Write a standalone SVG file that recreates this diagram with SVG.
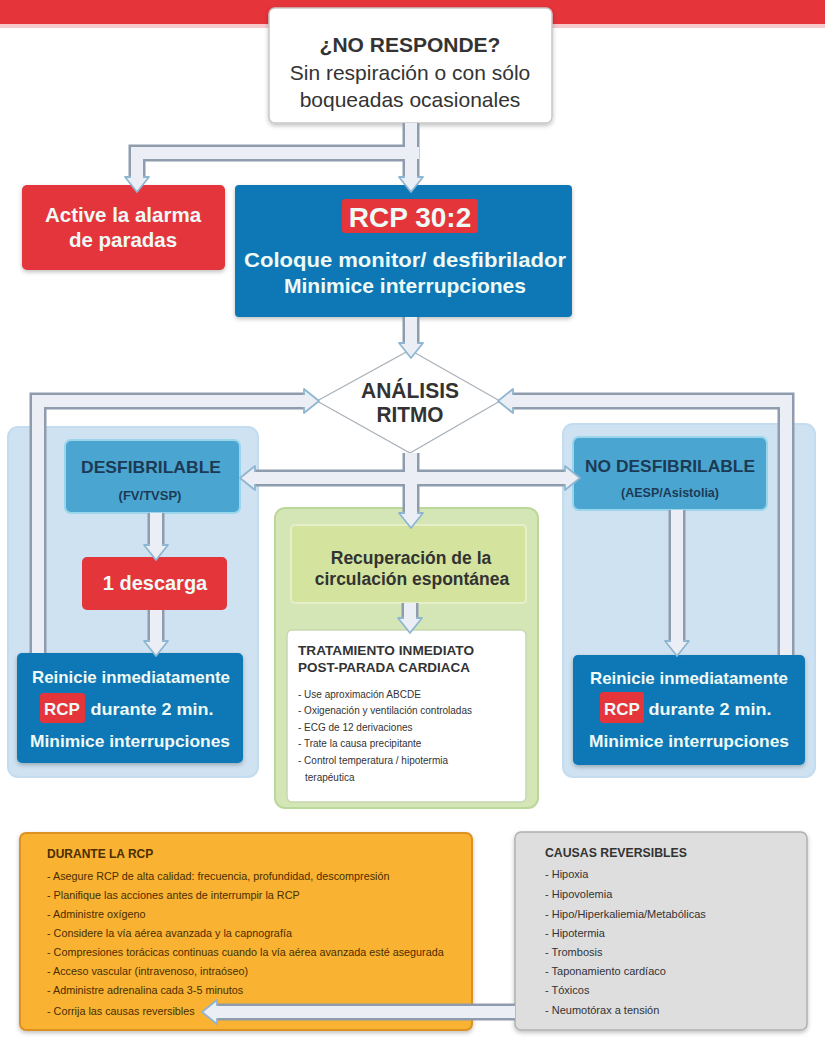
<svg xmlns="http://www.w3.org/2000/svg" width="825" height="1040" viewBox="0 0 825 1040">
<defs>
<style>
text{font-family:"Liberation Sans","Open Sans",Arial,sans-serif}
.po{fill:none;stroke:#8e9cae;stroke-width:17;stroke-linejoin:miter}
.pi{fill:none;stroke:#eceef5;stroke-width:12;stroke-linejoin:miter}
.ah{fill:#eceef5;stroke:#8fb6d0;stroke-width:1.8;stroke-linejoin:round}
.red{fill:#e3353a}
.blue{fill:#0f78b5}
.wt{fill:#effaf6;font-weight:bold;text-anchor:middle}
.dk{fill:#333;text-anchor:middle}
.panel{fill:#cfe2f1;stroke:#c3dcef;stroke-width:2}
.db{fill:#4aa6d1;stroke:#9ad5ec;stroke-width:2}
.dbt{fill:#1d3a55;font-weight:bold;text-anchor:middle}
.sm{font-size:10px;fill:#333}
.bl{font-size:10.8px;fill:#4a2e00}
.gl{font-size:11px;fill:#333}
</style>
<filter id="sh" x="-10%" y="-10%" width="120%" height="130%"><feDropShadow dx="0" dy="2" stdDeviation="2" flood-color="#000" flood-opacity="0.25"/></filter>
</defs>
<rect width="825" height="1040" fill="#fff"/>
<rect x="0" y="0" width="825" height="24" fill="#e5343a"/>
<rect x="0" y="24" width="825" height="4" fill="#f6c9cb"/>

<g id="panels">
<rect class="panel" x="8" y="427" width="250" height="350" rx="10"/>
<rect class="panel" x="563" y="424" width="252" height="353" rx="10"/>
<rect x="275" y="508" width="263" height="300" rx="10" fill="#d5e6b6" stroke="#bcd79a" stroke-width="2"/>
</g>

<g id="no-responde">
<rect x="269" y="8" width="283" height="115" rx="6" fill="#fff" stroke="#c8c8c8" stroke-width="1.5" filter="url(#sh)"/>
<text class="dk" x="410" y="52" font-size="21" font-weight="bold">¿NO RESPONDE?</text>
<text class="dk" x="410" y="80" font-size="21">Sin respiración o con sólo</text>
<text class="dk" x="410" y="107" font-size="21">boqueadas ocasionales</text>
</g>

<g id="alarma">
<rect class="red" x="22" y="185" width="203" height="85" rx="5" filter="url(#sh)"/>
<text class="wt" x="123" y="222" font-size="20.5">Active la alarma</text>
<text class="wt" x="123" y="247" font-size="20.5">de paradas</text>
</g>

<g id="rcp302">
<rect class="blue" x="235" y="185" width="337" height="132" rx="4" filter="url(#sh)"/>
<rect class="red" x="342" y="199" width="136" height="34" rx="3"/>
<text class="wt" x="410" y="227" font-size="28">RCP 30:2</text>
<text class="wt" x="405" y="267" font-size="21" textLength="322" lengthAdjust="spacingAndGlyphs">Coloque monitor/ desfibrilador</text>
<text class="wt" x="405" y="293" font-size="21" textLength="242" lengthAdjust="spacingAndGlyphs">Minimice interrupciones</text>
</g>

<g id="analisis">
<polygon points="410,350 500,401 410,453 317,401" fill="#fff" stroke="#a9b1ba" stroke-width="1.2"/>
<text class="dk" x="410" y="398" font-size="22" font-weight="bold" textLength="98" lengthAdjust="spacingAndGlyphs">ANÁLISIS</text>
<text class="dk" x="410" y="422" font-size="22" font-weight="bold" textLength="67" lengthAdjust="spacingAndGlyphs">RITMO</text>
</g>

<g id="desfibrilable">
<rect class="db" x="65" y="440" width="175" height="73" rx="6"/>
<text class="dbt" x="151" y="473" font-size="17" textLength="140" lengthAdjust="spacingAndGlyphs">DESFIBRILABLE</text>
<text class="dbt" x="150" y="500" font-size="13">(FV/TVSP)</text>
</g>

<g id="no-desfibrilable">
<rect class="db" x="573" y="437" width="194" height="73" rx="6"/>
<text class="dbt" x="670" y="472" font-size="17" textLength="170" lengthAdjust="spacingAndGlyphs">NO DESFIBRILABLE</text>
<text class="dbt" x="670" y="497" font-size="12.5">(AESP/Asistolia)</text>
</g>

<g id="descarga">
<rect class="red" x="82" y="557" width="145" height="53" rx="5"/>
<text class="wt" x="155" y="590" font-size="20">1 descarga</text>
</g>

<g id="reinicie-izq">
<rect class="blue" x="17" y="653" width="226" height="110" rx="5" filter="url(#sh)"/>
<text class="wt" x="131" y="683" font-size="17" textLength="198" lengthAdjust="spacingAndGlyphs">Reinicie inmediatamente</text>
<rect class="red" x="40" y="693" width="45" height="30" rx="3"/>
<text class="wt" x="62" y="715" font-size="17">RCP</text>
<text class="wt" x="152" y="715" font-size="17" textLength="123" lengthAdjust="spacingAndGlyphs">durante 2 min.</text>
<text class="wt" x="130" y="747" font-size="17" textLength="200" lengthAdjust="spacingAndGlyphs">Minimice interrupciones</text>
</g>

<g id="reinicie-der">
<rect class="blue" x="573" y="655" width="232" height="110" rx="5" filter="url(#sh)"/>
<text class="wt" x="689" y="684" font-size="17" textLength="198" lengthAdjust="spacingAndGlyphs">Reinicie inmediatamente</text>
<rect class="red" x="600" y="692" width="44" height="31" rx="3"/>
<text class="wt" x="622" y="715" font-size="17">RCP</text>
<text class="wt" x="710" y="715" font-size="17" textLength="123" lengthAdjust="spacingAndGlyphs">durante 2 min.</text>
<text class="wt" x="689" y="747" font-size="17" textLength="200" lengthAdjust="spacingAndGlyphs">Minimice interrupciones</text>
</g>

<g id="recuperacion">
<rect x="291" y="525" width="235" height="78" rx="4" fill="#d4e39d" stroke="#e6efc8" stroke-width="2"/>
<text class="dk" x="411" y="564" font-size="17.5" font-weight="bold" fill="#2a2a1a">Recuperación de la</text>
<text class="dk" x="412" y="585" font-size="17.5" font-weight="bold" fill="#2a2a1a">circulación espontánea</text>
</g>

<g id="post-parada">
<rect x="287" y="630" width="239" height="172" rx="5" fill="#fff" stroke="#c8d8b0" stroke-width="1.5"/>
<text x="298" y="655" font-size="13" font-weight="bold" fill="#333" textLength="176" lengthAdjust="spacingAndGlyphs">TRATAMIENTO INMEDIATO</text>
<text x="298" y="672" font-size="13" font-weight="bold" fill="#333" textLength="172" lengthAdjust="spacingAndGlyphs">POST-PARADA CARDIACA</text>
<text class="sm" x="298" y="698">- Use aproximación ABCDE</text>
<text class="sm" x="298" y="714">- Oxigenación y ventilación controladas</text>
<text class="sm" x="298" y="731">- ECG de 12 derivaciones</text>
<text class="sm" x="298" y="747">- Trate la causa precipitante</text>
<text class="sm" x="298" y="764">- Control temperatura / hipotermia</text>
<text class="sm" x="305" y="781">terapéutica</text>
</g>

<g id="durante-rcp">
<rect x="20" y="833" width="452" height="197" rx="6" fill="#f9b233" stroke="#dc9120" stroke-width="2" filter="url(#sh)"/>
<text x="47" y="858" font-size="12" font-weight="bold" fill="#4a2e00">DURANTE LA RCP</text>
<text class="bl" x="47" y="880">- Asegure RCP de alta calidad: frecuencia, profundidad, descompresión</text>
<text class="bl" x="47" y="899">- Planifique las acciones antes de interrumpir la RCP</text>
<text class="bl" x="47" y="918">- Administre oxígeno</text>
<text class="bl" x="47" y="937">- Considere la vía aérea avanzada y la capnografía</text>
<text class="bl" x="47" y="956">- Compresiones torácicas continuas cuando la vía aérea avanzada esté asegurada</text>
<text class="bl" x="47" y="975">- Acceso vascular (intravenoso, intraóseo)</text>
<text class="bl" x="47" y="994">- Administre adrenalina cada 3-5 minutos</text>
<text class="bl" x="47" y="1015">- Corrija las causas reversibles</text>
</g>

<g id="causas">
<rect x="515" y="832" width="292" height="198" rx="6" fill="#dedede" stroke="#b0b0b0" stroke-width="1.5" filter="url(#sh)"/>
<text x="545" y="857" font-size="12" font-weight="bold" fill="#333" textLength="142" lengthAdjust="spacingAndGlyphs">CAUSAS REVERSIBLES</text>
<text class="gl" x="545" y="878">- Hipoxia</text>
<text class="gl" x="545" y="898">- Hipovolemia</text>
<text class="gl" x="545" y="918">- Hipo/Hiperkaliemia/Metabólicas</text>
<text class="gl" x="545" y="937">- Hipotermia</text>
<text class="gl" x="545" y="956">- Trombosis</text>
<text class="gl" x="545" y="975">- Taponamiento cardíaco</text>
<text class="gl" x="545" y="994">- Tóxicos</text>
<text class="gl" x="545" y="1014">- Neumotórax a tensión</text>
</g>

<g id="connectors">
<path class="po" d="M411,123 V179"/>
<path class="po" d="M419,153 H137 V179"/>
<path class="po" d="M411,317 V345"/>
<path class="po" d="M411,453 V515"/>
<path class="po" d="M254,478 H566"/>
<path class="po" d="M38,653 V401 H305"/>
<path class="po" d="M786,655 V401 H512"/>
<path class="po" d="M156,513 V547"/>
<path class="po" d="M156,610 V643"/>
<path class="po" d="M677,510 V643"/>
<path class="po" d="M410,603 V620"/>
<path class="po" d="M515,1012 H216"/>
<polygon class="ah" points="399,177 423,177 411,192"/>
<polygon class="ah" points="125,177 149,177 137,192"/>
<polygon class="ah" points="399,343 423,343 411,358"/>
<polygon class="ah" points="399,513 423,513 411,528"/>
<polygon class="ah" points="255,466 255,490 240,478"/>
<polygon class="ah" points="565,466 565,490 580,478"/>
<polygon class="ah" points="304,389 304,413 319,401"/>
<polygon class="ah" points="513,389 513,413 498,401"/>
<polygon class="ah" points="144,545 168,545 156,560"/>
<polygon class="ah" points="144,641 168,641 156,656"/>
<polygon class="ah" points="665,641 689,641 677,656"/>
<polygon class="ah" points="398,618 422,618 410,633"/>
<polygon class="ah" points="217,1000 217,1024 202,1012"/>
<path class="pi" d="M411,123 V179"/>
<path class="pi" d="M419,153 H137 V179"/>
<path class="pi" d="M411,317 V345"/>
<path class="pi" d="M411,453 V515"/>
<path class="pi" d="M254,478 H566"/>
<path class="pi" d="M38,653 V401 H306"/>
<path class="pi" d="M786,655 V401 H511"/>
<path class="pi" d="M156,513 V547"/>
<path class="pi" d="M156,610 V643"/>
<path class="pi" d="M677,510 V643"/>
<path class="pi" d="M410,603 V620"/>
<path class="pi" d="M515,1012 H216"/>
</g>
</svg>
